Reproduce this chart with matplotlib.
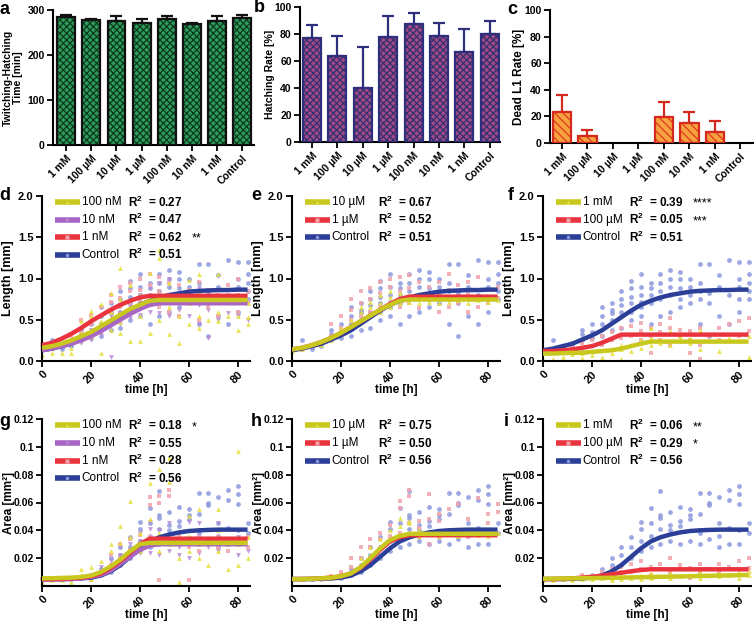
import matplotlib
matplotlib.use('Agg')
import matplotlib.pyplot as plt
import numpy as np

plt.rcParams['font.family'] = ['Liberation Sans', 'DejaVu Sans']
plt.rcParams['mathtext.fontset'] = 'custom'
plt.rcParams['mathtext.rm'] = 'Liberation Sans:bold'
plt.rcParams['mathtext.bf'] = 'Liberation Sans:bold'
plt.rcParams['hatch.linewidth'] = 0.9

# ---------------- bar data ----------------
CATEGORIES = ['1 mM', '100 µM', '10 µM', '1 µM', '100 nM', '10 nM', '1 nM', 'Control']
TWITCH_TIME = [284, 277, 275, 272, 280, 270, 276, 283]
TWITCH_ERR = [4, 4, 11, 9, 6, 1, 11, 6]
HATCH_RATE = [77, 63.5, 40, 78, 87.5, 78.5, 67, 80]
HATCH_ERR = [10, 15, 30, 15, 8, 10, 17, 10]
DEAD_RATE = [23, 5.5, 0, 0, 19.5, 15, 8.5, 0]
DEAD_ERR = [13, 4.5, 0, 0, 11.5, 8.5, 8, 0]

# ---------------- time-course data ----------------
TIMES = [0, 4, 8, 12, 16, 20, 24, 28, 32, 36, 40, 44, 48, 52, 56, 60, 64, 68, 72, 76, 80, 84]

# fitted curves (read at TIMES)
L_CTRL_FIT = [0.13, 0.15, 0.18, 0.21, 0.26, 0.31, 0.37, 0.45, 0.53, 0.61, 0.68, 0.73, 0.77, 0.80, 0.82, 0.84, 0.85, 0.855, 0.86, 0.86, 0.865, 0.865]
L_100NM_FIT = [0.16, 0.18, 0.21, 0.25, 0.30, 0.35, 0.42, 0.49, 0.56, 0.63, 0.68, 0.73, 0.74, 0.74, 0.74, 0.74, 0.74, 0.74, 0.74, 0.74, 0.74, 0.74]
L_10NM_FIT = [0.13, 0.15, 0.18, 0.21, 0.25, 0.30, 0.36, 0.43, 0.50, 0.57, 0.63, 0.68, 0.70, 0.70, 0.70, 0.70, 0.70, 0.70, 0.70, 0.70, 0.70, 0.70]
L_1NM_FIT = [0.19, 0.22, 0.27, 0.33, 0.40, 0.48, 0.55, 0.62, 0.68, 0.73, 0.77, 0.79, 0.79, 0.79, 0.79, 0.79, 0.79, 0.79, 0.79, 0.79, 0.79, 0.79]
L_10UM_FIT = [0.14, 0.16, 0.19, 0.23, 0.28, 0.34, 0.41, 0.48, 0.55, 0.62, 0.68, 0.73, 0.745, 0.745, 0.745, 0.745, 0.745, 0.745, 0.745, 0.745, 0.745, 0.745]
L_1UM_FIT = [0.14, 0.16, 0.19, 0.23, 0.28, 0.34, 0.41, 0.48, 0.55, 0.62, 0.69, 0.75, 0.78, 0.78, 0.78, 0.78, 0.78, 0.78, 0.78, 0.78, 0.78, 0.78]
L_1MM_FIT = [0.09, 0.09, 0.095, 0.10, 0.10, 0.11, 0.12, 0.13, 0.15, 0.18, 0.21, 0.235, 0.235, 0.235, 0.235, 0.235, 0.235, 0.235, 0.235, 0.235, 0.235, 0.235]
L_100UM_FIT = [0.12, 0.12, 0.13, 0.14, 0.16, 0.18, 0.22, 0.27, 0.32, 0.32, 0.32, 0.32, 0.32, 0.32, 0.32, 0.32, 0.32, 0.32, 0.32, 0.32, 0.32, 0.32]

A_CTRL_FIT = [0.005, 0.005, 0.005, 0.0052, 0.0055, 0.006, 0.0075, 0.0105, 0.015, 0.021, 0.027, 0.032, 0.035, 0.037, 0.0385, 0.0395, 0.040, 0.0403, 0.0405, 0.0405, 0.0405, 0.0405]
A_100NM_FIT = [0.0055, 0.0056, 0.0058, 0.006, 0.0065, 0.0075, 0.010, 0.014, 0.019, 0.025, 0.030, 0.031, 0.031, 0.031, 0.031, 0.031, 0.031, 0.031, 0.031, 0.031, 0.031, 0.031]
A_10NM_FIT = [0.0045, 0.0046, 0.0048, 0.005, 0.0055, 0.0065, 0.008, 0.011, 0.016, 0.021, 0.026, 0.029, 0.030, 0.030, 0.030, 0.030, 0.030, 0.030, 0.030, 0.030, 0.030, 0.030]
A_1NM_FIT = [0.005, 0.005, 0.0052, 0.0055, 0.006, 0.007, 0.009, 0.013, 0.018, 0.024, 0.030, 0.034, 0.034, 0.034, 0.034, 0.034, 0.034, 0.034, 0.034, 0.034, 0.034, 0.034]
A_10UM_FIT = [0.005, 0.005, 0.0052, 0.0055, 0.006, 0.007, 0.009, 0.0135, 0.020, 0.027, 0.033, 0.036, 0.0375, 0.0375, 0.0375, 0.0375, 0.0375, 0.0375, 0.0375, 0.0375, 0.0375, 0.0375]
A_1UM_FIT = [0.005, 0.005, 0.0052, 0.0055, 0.006, 0.007, 0.009, 0.013, 0.019, 0.026, 0.032, 0.035, 0.0365, 0.0365, 0.0365, 0.0365, 0.0365, 0.0365, 0.0365, 0.0365, 0.0365, 0.0365]
A_1MM_FIT = [0.0052, 0.0053, 0.0054, 0.0055, 0.0056, 0.0057, 0.0058, 0.0059, 0.006, 0.0062, 0.0063, 0.0064, 0.0066, 0.0067, 0.0069, 0.007, 0.0072, 0.0073, 0.0075, 0.0076, 0.0078, 0.0079]
A_100UM_FIT = [0.005, 0.005, 0.0052, 0.0055, 0.006, 0.0066, 0.0074, 0.0084, 0.0095, 0.0106, 0.0115, 0.012, 0.012, 0.012, 0.012, 0.012, 0.012, 0.012, 0.012, 0.012, 0.012, 0.012]

# measured points (one list per time in TIMES)
L_CTRL_PTS = [[], [0.25], [0.14, 0.17], [0.18, 0.22], [0.25, 0.33, 0.38], [0.28, 0.35, 0.45],
              [0.30, 0.45, 0.55, 0.65], [0.38, 0.50, 0.58, 0.62, 0.70], [0.40, 0.55, 0.60, 0.68, 0.75, 0.85],
              [0.50, 0.60, 0.70, 0.78, 0.88, 0.97], [0.55, 0.65, 0.72, 0.80, 0.90, 1.06], [0.45, 0.70, 0.80, 0.88, 0.95],
              [0.55, 0.75, 0.85, 0.95, 1.05], [0.60, 0.80, 0.90, 1.00, 1.10], [0.65, 0.75, 0.88, 1.00, 1.08],
              [0.70, 0.80, 0.90, 1.00], [0.45, 0.75, 0.85, 0.95, 1.18], [0.30, 0.70, 0.82, 1.18],
              [0.55, 0.90, 1.04], [0.45, 0.80, 1.22], [0.60, 0.75, 0.90, 1.00, 1.20], [0.75, 0.85, 0.95, 1.05, 1.20]]
L_100NM_PTS = [[0.07, 0.20], [0.10, 0.16], [0.10], [0.10, 0.16], [0.28, 0.34, 0.48], [0.30, 0.55, 0.61],
               [0.10, 0.49, 0.69], [0.38, 0.60, 0.82], [0.34, 0.47, 0.75, 1.13], [0.24, 0.60, 0.92],
               [0.24, 0.55, 0.80], [0.34, 0.70, 1.07], [0.50, 0.80, 1.25, 1.34], [0.33, 0.65, 0.95],
               [0.22, 0.55, 0.75], [0.45, 0.70, 0.98], [0.40, 0.55, 0.85, 1.05], [0.50, 0.75],
               [0.48, 0.60, 1.05], [0.55, 0.75], [0.38, 0.55, 0.80], [0.45, 0.53, 0.70]]
L_10NM_PTS = [[0.12], [0.14], [], [], [0.22], [0.26, 0.38], [0.32, 0.45], [0.05, 0.42, 0.55],
              [0.45, 0.58, 0.68], [0.52, 0.65], [0.56, 0.70, 0.80], [0.60, 0.72, 0.88], [0.58, 0.70, 0.95],
              [0.55, 0.72, 1.00], [0.62, 0.76], [0.55, 0.80], [0.45, 0.68, 0.88], [0.28, 0.62, 0.74],
              [0.50, 0.76], [0.58, 0.72], [0.55, 0.78], [0.50, 0.70]]
L_1NM_PTS = [[0.21], [0.22], [], [0.30], [0.36, 0.50], [0.45, 0.56], [0.55, 0.66], [0.60, 0.72, 0.80],
             [0.66, 0.76, 0.90], [0.70, 0.85, 0.95], [0.74, 0.86, 1.00], [0.70, 0.92, 1.05], [0.65, 0.85, 1.02],
             [0.60, 0.80, 0.95], [0.55, 0.76, 0.92], [0.70, 0.86], [0.50, 0.80, 0.96], [0.66, 0.86],
             [0.55, 0.80], [0.70, 0.92], [0.60, 0.80, 1.00], [0.72, 0.85]]
L_10UM_PTS = [[0.12], [0.15], [], [0.20], [0.25], [0.34, 0.40], [0.40, 0.50], [0.50, 0.60, 0.66],
              [0.55, 0.65, 0.72], [0.60, 0.70, 0.80], [0.66, 0.78, 0.85], [0.70, 0.76, 0.82], [0.72, 0.80],
              [0.70, 0.78], [0.72, 0.76], [0.70, 0.78], [0.72], [0.74], [0.70, 0.76], [0.74], [0.72], [0.74]]
L_1UM_PTS = [[], [0.13], [0.20], [0.22], [0.30, 0.45], [0.40, 0.55], [0.50, 0.62, 0.75], [0.55, 0.70, 0.85],
             [0.60, 0.75, 0.88], [0.65, 0.82, 0.96], [0.70, 0.90, 1.00], [0.66, 0.85, 1.02], [0.70, 0.88, 1.04],
             [0.64, 0.80, 0.96], [0.75, 0.90], [0.60, 0.82, 0.96], [0.65, 0.86, 1.05], [0.70, 0.92],
             [0.60, 0.82, 0.96], [0.66, 1.02], [0.70, 0.86], [0.76, 0.90]]
L_1MM_PTS = [[0.02], [0.03], [0.05], [0.08], [0.04, 0.10], [0.07, 0.12], [0.05, 0.13], [0.10, 0.15],
             [0.02, 0.15, 0.20], [0.12, 0.20], [0.16, 0.26], [0.20, 0.28, 0.40], [0.22, 0.26], [0.20, 0.36],
             [0.25, 0.30], [0.22, 0.28], [0.15, 0.38], [0.25], [0.12, 0.26], [0.28], [0.25], [0.05, 0.30]]
L_100UM_PTS = [[], [0.10], [0.12], [0.16, 0.20], [0.15, 0.22], [0.18, 0.26], [0.20, 0.30], [0.25, 0.35],
               [0.28, 0.40], [0.30, 0.42], [0.25, 0.36, 0.46], [0.10, 0.30, 0.40], [0.25, 0.35, 0.45],
               [0.20, 0.40, 0.52], [0.30, 0.38], [0.10, 0.25, 0.36], [0.02, 0.20, 0.40], [0.30],
               [0.25, 0.40], [0.45], [0.30, 0.48], [0.36, 0.52]]

A_CTRL_PTS = [[], [], [0.005], [0.005], [0.006], [0.006, 0.008], [0.008, 0.012], [0.010, 0.015, 0.020],
              [0.015, 0.022, 0.028], [0.020, 0.028, 0.035], [0.025, 0.032, 0.041, 0.046],
              [0.028, 0.036, 0.045, 0.056], [0.030, 0.041, 0.049, 0.051, 0.068], [0.032, 0.040, 0.044, 0.053],
              [0.030, 0.043, 0.047, 0.057], [0.032, 0.048, 0.051, 0.055], [0.030, 0.038, 0.052, 0.067],
              [0.034, 0.058, 0.060, 0.067], [0.028, 0.036, 0.045, 0.064], [0.030, 0.042, 0.062, 0.069],
              [0.030, 0.040, 0.059, 0.066, 0.072], [0.038, 0.045]]
A_100NM_PTS = [[0.003, 0.006], [0.004], [0.004], [0.003, 0.006], [0.008, 0.012], [0.005, 0.014],
               [0.010, 0.018], [0.012, 0.025, 0.030], [0.018, 0.031, 0.043], [0.022, 0.035, 0.061],
               [0.025, 0.038], [0.030, 0.048, 0.074], [0.025, 0.038, 0.084], [0.030, 0.075, 0.092],
               [0.003, 0.020, 0.034], [0.025, 0.036, 0.050], [0.020, 0.030, 0.055], [0.015, 0.035],
               [0.025, 0.040, 0.055], [0.012, 0.030], [0.015, 0.030, 0.097], [0.020, 0.035]]
A_10NM_PTS = [[0.004], [], [], [], [0.006], [0.008], [0.010, 0.014], [0.012, 0.018], [0.015, 0.022, 0.028],
              [0.020, 0.030], [0.024, 0.032, 0.038], [0.024, 0.041, 0.046], [0.022, 0.030, 0.040],
              [0.025, 0.030, 0.045], [0.022, 0.028], [0.020, 0.030, 0.046], [0.024, 0.045], [0.028],
              [0.025, 0.045], [0.030], [0.022, 0.035], [0.025]]
A_1NM_PTS = [[0.005], [], [], [], [0.006], [0.004], [0.010], [0.015, 0.022], [0.020, 0.030], [0.026, 0.034],
             [0.030, 0.037], [0.035, 0.058, 0.064], [0.004, 0.060, 0.065], [0.030, 0.065, 0.069],
             [0.030, 0.036], [0.004, 0.028], [0.025, 0.035], [0.030], [0.028, 0.035], [0.025, 0.034],
             [0.030], [0.028, 0.035]]
A_10UM_PTS = [[0.005], [0.005], [], [], [0.006], [0.008], [0.010], [0.014, 0.020], [0.022, 0.028],
              [0.028, 0.034], [0.034, 0.040], [0.036, 0.043, 0.049], [0.038, 0.045, 0.047], [0.036, 0.040],
              [0.038], [0.036], [0.038], [0.036], [0.038], [0.037], [0.036], [0.038]]
A_1UM_PTS = [[], [], [], [], [0.007], [0.010], [0.014, 0.020], [0.020, 0.028], [0.028, 0.034], [0.034, 0.038],
             [0.036, 0.044], [0.038, 0.056, 0.061], [0.045, 0.065, 0.069], [0.035, 0.042, 0.047],
             [0.030, 0.048, 0.066], [0.035, 0.047, 0.052], [0.040, 0.055], [0.038, 0.059], [0.035, 0.048],
             [0.040, 0.063], [0.045, 0.052], [0.053, 0.059]]
A_1MM_PTS = [[0.004], [0.004], [0.005], [0.004], [0.005], [0.005], [0.006], [0.004, 0.006], [0.005, 0.007],
             [0.006], [0.005, 0.008], [0.006, 0.009], [0.007], [0.006, 0.009], [0.007], [0.008],
             [0.006, 0.010], [0.008], [0.007, 0.009], [0.008], [0.006, 0.010], [0.008, 0.011]]
A_100UM_PTS = [[], [0.005], [0.005], [0.006], [0.006, 0.008], [0.007], [0.008, 0.010], [0.008, 0.012],
               [0.010, 0.014], [0.010, 0.016], [0.012, 0.018], [0.008, 0.014], [0.012, 0.016], [0.010, 0.020],
               [0.012, 0.015], [0.006, 0.013], [0.010, 0.016], [0.012], [0.010, 0.016], [0.014],
               [0.012, 0.018], [0.013, 0.020]]

# ---------------- styling ----------------
YEL = ('#c9c81e', '#e6e03a', '^')
PUR = ('#a866c4', '#b98ad6', 'v')
RED = ('#e9343f', '#f3a3ab', 's')
BLU = ('#2c3f98', '#8c98dc', 'o')

W, H = 754, 622
fig = plt.figure(figsize=(W / 100, H / 100), dpi=100)


def px_axes(l, t, r, b):
    return fig.add_axes([l / W, 1 - b / H, (r - l) / W, (b - t) / H])


def base_style(ax, size):
    for s in ['top', 'right']:
        ax.spines[s].set_visible(False)
    for s in ['left', 'bottom']:
        ax.spines[s].set_linewidth(1.5)
    ax.tick_params(width=1.3, length=4, labelsize=size, direction='out', pad=2)


def bar_panel(ax, vals, errs, face, hatch, hatchcol, edge, ylim, yticks, ylabel, lsize, xlim, lx):
    x = np.arange(len(vals))
    idx = [i for i, v in enumerate(vals) if v > 0]
    xv = x[idx]
    hv = [vals[i] for i in idx]
    ax.bar(xv, hv, width=0.71, color=face, edgecolor='none', zorder=2)
    ax.bar(xv, hv, width=0.71, fill=False, hatch=hatch, edgecolor=hatchcol, linewidth=0, zorder=3)
    ax.bar(xv, hv, width=0.71, fill=False, edgecolor=edge, linewidth=1.6, zorder=4)
    ei = [i for i in idx if errs[i] > 0]
    ax.errorbar(x[ei], [vals[i] for i in ei], yerr=[np.zeros(len(ei)), [errs[i] for i in ei]],
                fmt='none', ecolor=edge, elinewidth=1.6, capsize=4, capthick=1.6, zorder=1)
    ax.set_xlim(*xlim)
    ax.set_ylim(*ylim)
    ax.set_yticks(yticks)
    ax.set_yticklabels([str(v) for v in yticks], fontweight='bold')
    ax.set_xticks(x)
    ax.set_xticklabels(CATEGORIES, rotation=45, ha='right', rotation_mode='anchor',
                       fontweight='bold')
    base_style(ax, 7.5)
    ax.set_ylabel(ylabel, fontweight='bold', fontsize=lsize, linespacing=1.0)
    ax.yaxis.set_label_coords(lx, 0.5)


ax_a = px_axes(53, 10, 254, 145)
bar_panel(ax_a, TWITCH_TIME, TWITCH_ERR, '#2f9c5c', 'xxxxx', '#0b3b1e', '#111111',
          (0, 300), [0, 100, 200, 300], 'Twitching-Hatching\nTime [min]', 7.5, (-0.52, 7.46), -0.15)
ax_b = px_axes(300, 7, 500, 142)
bar_panel(ax_b, HATCH_RATE, HATCH_ERR, '#a04a88', 'xxxxx', '#35306e', '#2e2f7c',
          (0, 100), [0, 20, 40, 60, 80, 100], 'Hatching Rate [%]', 7.5, (-0.47, 7.4), -0.125)
ax_c = px_axes(550, 10, 754, 143)
bar_panel(ax_c, DEAD_RATE, DEAD_ERR, '#f6a23e', '\\\\\\\\', '#e0381e', '#d42a1e',
          (0, 100), [0, 20, 40, 60, 80, 100], 'Dead L1 Rate [%]', 8.5, (-0.47, 7.53), -0.123)


def line_panel(box, draw, legend, ylim, yticks, yticklabels, ylabel, lx, tsize, lsize, ypad):
    ax = px_axes(*box)
    for pts, fit, sty in draw:
        xs, ys = [], []
        for t, vs in zip(TIMES, pts):
            for v in vs:
                xs.append(t)
                ys.append(v)
        ax.scatter(xs, ys, s=12, marker=sty[2], color=sty[1], alpha=0.85, linewidths=0,
                   zorder=2, clip_on=False)
    for pts, fit, sty in draw:
        ax.plot(TIMES, fit, color=sty[0], lw=3.2, zorder=3, solid_joinstyle='round',
                solid_capstyle='butt')
    for k, (label, r2, stars, sty) in enumerate(legend):
        y = 0.962 - k * 0.106
        ax.plot([0.0625, 0.183], [y, y], transform=ax.transAxes, color=sty[0], lw=4,
                solid_capstyle='butt', clip_on=False, zorder=5)
        ax.plot([0.1225], [y], transform=ax.transAxes, marker=sty[2], ms=2.5, color=sty[1],
                mec='none', clip_on=False, zorder=6)
        ax.text(0.19, y, label, transform=ax.transAxes, va='center', ha='left', fontsize=8.5)
        ax.text(0.413, y, 'R$^{2}$  = ' + r2, transform=ax.transAxes, va='center', ha='left',
                fontsize=8.5, fontweight='bold')
        if stars:
            ax.text(0.72, y - 0.01, stars, transform=ax.transAxes, va='center', ha='left', fontsize=9)
    ax.set_xlim(0, 85)
    ax.set_ylim(*ylim)
    ax.set_xticks([0, 20, 40, 60, 80])
    ax.set_xticklabels(['0', '20', '40', '60', '80'], rotation=45, ha='right',
                       rotation_mode='anchor', fontweight='bold')
    ax.set_yticks(yticks)
    ax.set_yticklabels(yticklabels, fontweight='bold')
    base_style(ax, 8)
    ax.tick_params(axis='y', labelsize=tsize, pad=ypad)
    ax.set_xlabel('time [h]', fontweight='bold', fontsize=8.5)
    ax.xaxis.label.set_va('center')
    ax.xaxis.set_label_coords(0.5, -0.175)
    ax.set_ylabel(ylabel, fontweight='bold', fontsize=lsize)
    ax.yaxis.set_label_coords(lx, 0.5)
    return ax


LEN_TICKS = [0.0, 0.5, 1.0, 1.5, 2.0]
LEN_LABELS = ['0.0', '0.5', '1.0', '1.5', '2.0']
AREA_TICKS = [0.02, 0.04, 0.06, 0.08, 0.10, 0.12]
AREA_LABELS = ['0.02', '0.04', '0.06', '0.08', '0.1', '0.12']

line_panel((42, 196, 250, 361),
           [(L_CTRL_PTS, L_CTRL_FIT, BLU), (L_10NM_PTS, L_10NM_FIT, PUR),
            (L_1NM_PTS, L_1NM_FIT, RED), (L_100NM_PTS, L_100NM_FIT, YEL)],
           [('100 nM', '0.27', '', YEL), ('10 nM', '0.47', '', PUR),
            ('1 nM', '0.62', '**', RED), ('Control', '0.51', '', BLU)],
           (0, 2.0), LEN_TICKS, LEN_LABELS, 'Length [mm]', -0.135, 8, 9, 2)
line_panel((292, 196, 500, 361),
           [(L_CTRL_PTS, L_CTRL_FIT, BLU), (L_1UM_PTS, L_1UM_FIT, RED), (L_10UM_PTS, L_10UM_FIT, YEL)],
           [('10 µM', '0.67', '', YEL), ('1 µM', '0.52', '', RED), ('Control', '0.51', '', BLU)],
           (0, 2.0), LEN_TICKS, LEN_LABELS, 'Length [mm]', -0.135, 8, 9, 2)
line_panel((543, 196, 751, 361),
           [(L_CTRL_PTS, L_CTRL_FIT, BLU), (L_100UM_PTS, L_100UM_FIT, RED), (L_1MM_PTS, L_1MM_FIT, YEL)],
           [('1 mM', '0.39', '****', YEL), ('100 µM', '0.05', '***', RED), ('Control', '0.51', '', BLU)],
           (0, 2.0), LEN_TICKS, LEN_LABELS, 'Length [mm]', -0.135, 8, 9, 2)
line_panel((42, 419, 250, 586),
           [(A_CTRL_PTS, A_CTRL_FIT, BLU), (A_10NM_PTS, A_10NM_FIT, PUR),
            (A_1NM_PTS, A_1NM_FIT, RED), (A_100NM_PTS, A_100NM_FIT, YEL)],
           [('100 nM', '0.18', '*', YEL), ('10 nM', '0.55', '', PUR),
            ('1 nM', '0.28', '', RED), ('Control', '0.56', '', BLU)],
           (0, 0.12), AREA_TICKS, AREA_LABELS, 'Area [mm²]', -0.128, 7.5, 8.5, 1.5)
line_panel((292, 419, 500, 586),
           [(A_CTRL_PTS, A_CTRL_FIT, BLU), (A_1UM_PTS, A_1UM_FIT, RED), (A_10UM_PTS, A_10UM_FIT, YEL)],
           [('10 µM', '0.75', '', YEL), ('1 µM', '0.50', '', RED), ('Control', '0.56', '', BLU)],
           (0, 0.12), AREA_TICKS, AREA_LABELS, 'Area [mm²]', -0.128, 7.5, 8.5, 1.5)
line_panel((543, 419, 751, 586),
           [(A_CTRL_PTS, A_CTRL_FIT, BLU), (A_100UM_PTS, A_100UM_FIT, RED), (A_1MM_PTS, A_1MM_FIT, YEL)],
           [('1 mM', '0.06', '**', YEL), ('100 µM', '0.29', '*', RED), ('Control', '0.56', '', BLU)],
           (0, 0.12), AREA_TICKS, AREA_LABELS, 'Area [mm²]', -0.128, 7.5, 8.5, 1.5)

# panel letters
LETTERS = [('a', 5, 10), ('b', 259, 8), ('c', 512, 9), ('d', 5, 196), ('e', 256, 196),
           ('f', 511, 196), ('g', 5, 421), ('h', 256, 421), ('i', 506, 421)]
for txt, x, y in LETTERS:
    fig.text(x / W, 1 - y / H, txt, fontsize=13, fontweight='bold', ha='center', va='center')

fig.savefig('out.png', dpi=100)
